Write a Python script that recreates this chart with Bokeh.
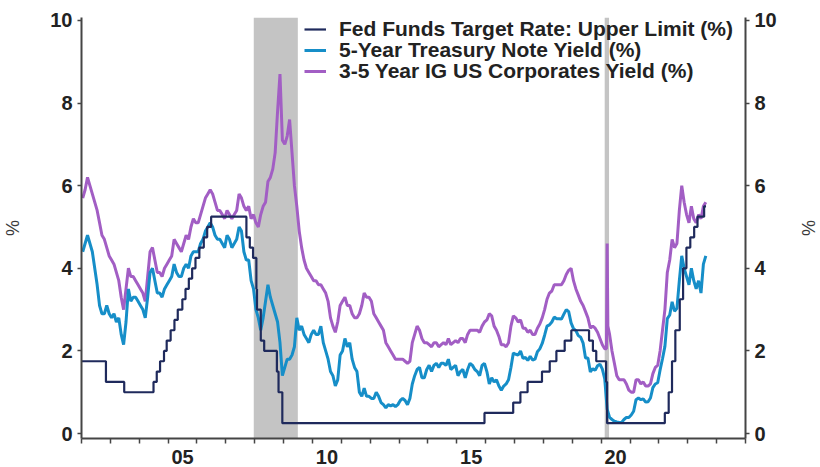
import datetime as dt
from bokeh.plotting import figure
from bokeh.models import (LinearAxis, FixedTicker, CustomJSTickFormatter, BoxAnnotation,
                          Legend, LegendItem, Range1d)
from bokeh.embed import file_html
from bokeh.resources import INLINE

# ---------------- data ----------------
series_start = "2002-01"   # monthly series start (mid-month points)

treasury_5y = [
    4.4, 4.6, 4.8, 4.6, 4.4, 4.0, 3.6, 3.1, 2.9, 2.9, 3.1, 2.9,        # 2002
    2.8, 2.9, 2.7, 2.8, 2.4, 2.15, 2.7, 3.5, 3.2, 3.3, 3.3, 3.2,      # 2003
    3.1, 3.0, 2.8, 3.3, 3.9, 4.0, 3.7, 3.4, 3.4, 3.3, 3.5, 3.6,       # 2004
    3.7, 3.8, 4.1, 3.9, 3.8, 3.8, 4.0, 4.1, 4.0, 4.3, 4.4, 4.4,       # 2005
    4.4, 4.6, 4.7, 4.9, 5.0, 5.1, 5.0, 4.8, 4.7, 4.7, 4.6, 4.5,       # 2006
    4.8, 4.7, 4.5, 4.6, 4.7, 5.0, 4.9, 4.4, 4.2, 4.2, 3.7, 3.5,       # 2007
    3.0, 2.8, 2.5, 2.8, 3.2, 3.6, 3.3, 3.1, 2.9, 2.7, 2.2, 1.4,       # 2008
    1.6, 1.8, 1.8, 1.9, 2.1, 2.8, 2.5, 2.6, 2.4, 2.3, 2.2, 2.4,       # 2009
    2.5, 2.4, 2.4, 2.6, 2.2, 2.0, 1.8, 1.5, 1.4, 1.15, 1.3, 1.9,      # 2010
    2.0, 2.3, 2.1, 2.2, 1.8, 1.6, 1.5, 1.0, 0.9, 1.1, 0.9, 0.9,       # 2011
    0.85, 0.85, 1.0, 0.9, 0.75, 0.7, 0.62, 0.7, 0.67, 0.7, 0.65, 0.7, # 2012
    0.8, 0.85, 0.8, 0.7, 0.85, 1.2, 1.4, 1.55, 1.6, 1.35, 1.35, 1.55, # 2013
    1.65, 1.5, 1.65, 1.7, 1.6, 1.7, 1.7, 1.65, 1.8, 1.55, 1.6, 1.65,  # 2014
    1.4, 1.5, 1.55, 1.35, 1.55, 1.7, 1.65, 1.55, 1.5, 1.4, 1.65, 1.7, # 2015
    1.5, 1.2, 1.35, 1.25, 1.3, 1.15, 1.05, 1.15, 1.2, 1.3, 1.6, 1.95, # 2016
    1.92, 1.9, 2.0, 1.82, 1.84, 1.77, 1.87, 1.78, 1.8, 1.98, 2.05, 2.18,  # 2017
    2.38, 2.6, 2.63, 2.7, 2.82, 2.78, 2.78, 2.77, 2.89, 3.0, 2.95, 2.68,  # 2018
    2.54, 2.49, 2.37, 2.33, 2.19, 1.83, 1.83, 1.49, 1.57, 1.53, 1.64, 1.68,  # 2019
    1.56, 1.32, 0.59, 0.39, 0.34, 0.3, 0.28, 0.27, 0.27, 0.34, 0.39, 0.39,  # 2020
    0.45, 0.54, 0.82, 0.86, 0.82, 0.84, 0.76, 0.77, 0.86, 1.11, 1.2, 1.23,  # 2021
    1.54, 1.81, 2.11, 2.78, 2.87, 3.19, 2.96, 3.03, 3.7, 4.3, 4.0, 3.8,     # 2022
    3.6, 4.0, 3.7, 3.5, 3.7, 3.4, 4.1, 4.3,                                 # 2023
]

ig_corp_3_5y = [
    5.7, 5.9, 6.2, 6.0, 5.8, 5.6, 5.4, 5.1, 4.8, 4.7, 4.5, 4.3,       # 2002
    4.2, 4.1, 3.9, 3.7, 3.3, 3.0, 3.5, 4.0, 3.8, 3.8, 3.7, 3.6,       # 2003
    3.5, 3.4, 3.2, 3.8, 4.4, 4.5, 4.2, 3.9, 3.9, 3.8, 4.0, 4.1,       # 2004
    4.2, 4.3, 4.7, 4.6, 4.5, 4.4, 4.6, 4.8, 4.7, 5.0, 5.2, 5.1,       # 2005
    5.1, 5.3, 5.5, 5.7, 5.8, 5.9, 5.8, 5.6, 5.4, 5.4, 5.3, 5.2,       # 2006
    5.4, 5.3, 5.2, 5.3, 5.4, 5.8, 5.7, 5.5, 5.4, 5.5, 5.2, 5.3,       # 2007
    5.1, 5.0, 5.3, 5.5, 5.6, 6.1, 6.2, 6.4, 6.8, 7.8, 8.7, 7.1,       # 2008
    7.0, 7.2, 7.6, 6.8, 6.0, 5.5, 4.9, 4.5, 4.2, 4.0, 3.9, 3.8,       # 2009
    3.7, 3.7, 3.6, 3.6, 3.5, 3.4, 3.2, 2.8, 2.6, 2.45, 2.7, 3.1,      # 2010
    3.2, 3.3, 3.1, 3.1, 2.9, 2.8, 2.8, 2.9, 3.1, 3.4, 3.3, 3.3,       # 2011
    3.2, 2.9, 2.8, 2.7, 2.6, 2.5, 2.2, 2.1, 2.0, 1.9, 1.8, 1.8,       # 2012
    1.8, 1.8, 1.75, 1.7, 1.75, 2.2, 2.4, 2.6, 2.5, 2.3, 2.2, 2.2,     # 2013
    2.15, 2.1, 2.2, 2.2, 2.1, 2.15, 2.2, 2.15, 2.3, 2.15, 2.2, 2.25,  # 2014
    2.2, 2.3, 2.3, 2.2, 2.4, 2.5, 2.5, 2.5, 2.5, 2.45, 2.6, 2.7,      # 2015
    2.75, 2.9, 2.85, 2.6, 2.5, 2.35, 2.15, 2.15, 2.1, 2.2, 2.6, 2.85, # 2016
    2.8, 2.7, 2.75, 2.55, 2.55, 2.45, 2.5, 2.4, 2.4, 2.55, 2.65, 2.8, # 2017
    3.0, 3.25, 3.4, 3.45, 3.6, 3.6, 3.6, 3.6, 3.7, 3.85, 3.95, 4.0,   # 2018
    3.7, 3.5, 3.35, 3.2, 3.1, 2.95, 2.8, 2.55, 2.6, 2.55, 2.45, 2.3,  # 2019
    2.15, 2.05, 4.6, 2.4, 2.0, 1.7, 1.4, 1.3, 1.3, 1.3, 1.2, 1.05,    # 2020
    1.0, 1.0, 1.3, 1.3, 1.2, 1.25, 1.15, 1.15, 1.2, 1.45, 1.6, 1.65,  # 2021
    2.0, 2.5, 3.0, 3.9, 4.2, 4.7, 4.5, 4.6, 5.4, 6.0, 5.6, 5.3,       # 2022
    5.1, 5.5, 5.2, 5.1, 5.3, 5.2, 5.5, 5.6,                           # 2023
]

# extra readings around the March 2020 spike
corp_spike_dates = ["2020-03-08", "2020-03-26"]
corp_spike_values = [2.05, 2.6]

fed_change_dates = [
    "2002-01-01", "2002-11-06", "2003-06-25", "2004-06-30", "2004-08-10", "2004-09-21",
    "2004-11-10", "2004-12-14", "2005-02-02", "2005-03-22", "2005-05-03", "2005-06-30",
    "2005-08-09", "2005-09-20", "2005-11-01", "2005-12-13", "2006-01-31", "2006-03-28",
    "2006-05-10", "2006-06-29", "2007-09-18", "2007-10-31", "2007-12-11", "2008-01-22",
    "2008-01-30", "2008-03-18", "2008-04-30", "2008-10-08", "2008-10-29", "2008-12-16",
    "2015-12-17", "2016-12-15", "2017-03-16", "2017-06-15", "2017-12-14", "2018-03-22",
    "2018-06-14", "2018-09-27", "2018-12-20", "2019-08-01", "2019-09-19", "2019-10-31",
    "2020-03-04", "2020-03-16", "2022-03-17", "2022-05-05", "2022-06-16", "2022-07-28",
    "2022-09-22", "2022-11-03", "2022-12-15", "2023-02-02", "2023-03-23", "2023-05-04",
    "2023-07-27", "2023-08-20",
]
fed_upper_limit = [
    1.75, 1.25, 1.00, 1.25, 1.50, 1.75,
    2.00, 2.25, 2.50, 2.75, 3.00, 3.25,
    3.50, 3.75, 4.00, 4.25, 4.50, 4.75,
    5.00, 5.25, 4.75, 4.50, 4.25, 3.50,
    3.00, 2.25, 2.00, 1.50, 1.00, 0.25,
    0.50, 0.75, 1.00, 1.25, 1.50, 1.75,
    2.00, 2.25, 2.50, 2.25, 2.00, 1.75,
    1.25, 0.25, 0.50, 1.00, 1.75, 2.50,
    3.25, 4.00, 4.50, 4.75, 5.00, 5.25,
    5.50, 5.50,
]

recession_starts = ["2007-12-20", "2020-02-15"]
recession_ends = ["2009-06-30", "2020-04-10"]

y_ticks = [0, 2, 4, 6, 8, 10]
x_year_marks = list(range(2002, 2026))
x_label_years = [2005, 2010, 2015, 2020]

legend_labels = [
    "Fed Funds Target Rate: Upper Limit (%)",
    "5-Year Treasury Note Yield (%)",
    "3-5 Year IG US Corporates Yield (%)",
]

# ---------------- helpers ----------------
def dec_year(s):
    d = dt.date.fromisoformat(s)
    a = dt.date(d.year, 1, 1)
    b = dt.date(d.year + 1, 1, 1)
    return d.year + (d - a).days / (b - a).days


y0, m0 = map(int, series_start.split("-"))


def monthly_x(n):
    return [y0 + (m0 - 1 + i + 0.5) / 12 for i in range(n)]


tsy_x = monthly_x(len(treasury_5y))
corp_pts = list(zip(monthly_x(len(ig_corp_3_5y)), ig_corp_3_5y))
corp_pts += [(dec_year(d), v) for d, v in zip(corp_spike_dates, corp_spike_values)]
corp_pts.sort()
corp_x = [a for a, _ in corp_pts]
corp_y = [b for _, b in corp_pts]
fed_x = [dec_year(d) for d in fed_change_dates]

# ---------------- figure ----------------
FONT = "Liberation Sans"
TXT = "#222222"
AX = "#454545"

p = figure(width=820, height=467, output_backend="svg", toolbar_location=None,
           x_range=Range1d(2002, 2025), y_range=Range1d(-0.12, 10.07),
           min_border_left=80, min_border_right=70, min_border_top=17, min_border_bottom=29)
p.outline_line_color = None
p.grid.visible = False
p.background_fill_color = "white"

for s, e in zip(recession_starts, recession_ends):
    p.add_layout(BoxAnnotation(left=dec_year(s), right=dec_year(e), fill_color="#c4c4c4",
                               fill_alpha=1.0, line_alpha=0, level="underlay"))

r_corp = p.line(corp_x, corp_y, line_color="#a25ec4", line_width=3.0)
r_tsy = p.line(tsy_x, treasury_5y, line_color="#168ec8", line_width=3.0)
r_fed = p.step(fed_x, fed_upper_limit, mode="after", line_color="#1f2a5c", line_width=2.2)

# x axis
xa = p.xaxis[0]
xa.ticker = FixedTicker(ticks=[y + 0.5 for y in x_label_years], minor_ticks=x_year_marks)
xa.formatter = CustomJSTickFormatter(code="return String(Math.floor(tick) % 100).padStart(2, '0');")
xa.major_tick_out = 0
xa.major_tick_in = 0
xa.minor_tick_out = 5
xa.minor_tick_in = 0
xa.minor_tick_line_color = AX
xa.minor_tick_line_width = 1.5
xa.major_label_standoff = 6

# y axes
ra = LinearAxis()
p.add_layout(ra, "right")
for ax in (p.yaxis[0], ra):
    ax.ticker = FixedTicker(ticks=y_ticks)
    ax.major_tick_out = 4
    ax.major_tick_in = 0
    ax.minor_tick_out = 0
    ax.minor_tick_in = 0
    ax.major_label_standoff = 5
    ax.axis_label = "%"
    ax.axis_label_text_font = FONT
    ax.axis_label_text_font_style = "normal"
    ax.axis_label_text_font_size = "18px"
    ax.axis_label_text_color = "#3a3a3a"
p.yaxis[0].axis_label_standoff = 24
ra.axis_label_standoff = 18

for ax in (xa, p.yaxis[0], ra):
    ax.axis_line_color = AX
    ax.axis_line_width = 2
    ax.major_tick_line_color = AX
    ax.major_tick_line_width = 1.5
    ax.major_label_text_font = FONT
    ax.major_label_text_font_style = "bold"
    ax.major_label_text_font_size = "20px"
    ax.major_label_text_color = TXT

# legend: one entry per row, placed at the reference's row centres
row_centres = [29, 50, 71]          # page y of each legend row
renderers = [r_fed, r_tsy, r_corp]
ROW_H = 24
for lab, rend, c in zip(legend_labels, renderers, row_centres):
    lg = Legend(items=[LegendItem(label=lab, renderers=[rend])],
                location=(223, 438 - c - ROW_H / 2))
    lg.label_text_font = FONT
    lg.label_text_font_style = "bold"
    lg.label_text_font_size = "21px"
    lg.label_text_color = TXT
    lg.glyph_width = 22
    lg.glyph_height = ROW_H
    lg.label_height = ROW_H
    lg.label_standoff = 13
    lg.spacing = 0
    lg.padding = 0
    lg.margin = 0
    lg.background_fill_alpha = 0
    lg.border_line_alpha = 0
    p.add_layout(lg, "center")

open("out.html", "w").write(file_html(p, INLINE))
